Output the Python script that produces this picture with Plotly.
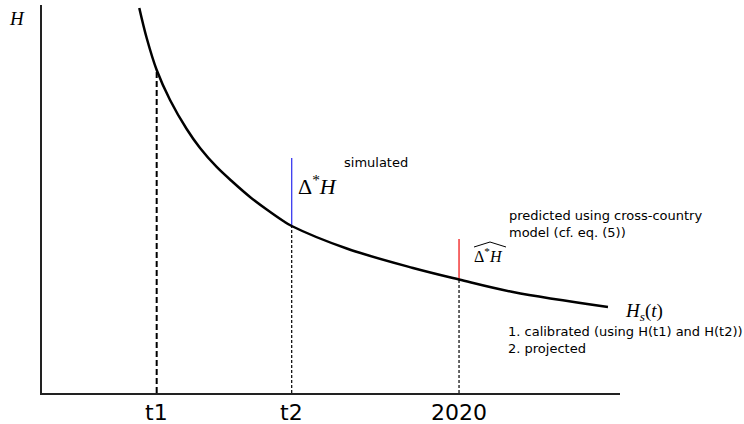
import plotly.graph_objects as go

# ---- data (arbitrary units) ----
curve_x = [1.683, 1.811, 1.984, 2.215, 2.503, 2.734, 3.022, 3.310, 3.599, 3.888,
           4.175, 4.320, 5.272, 6.419, 7.215, 8.149, 9.792]
curve_y = [9.923, 9.149, 8.325, 7.552, 6.804, 6.314, 5.825, 5.425, 5.052, 4.729,
           4.433, 4.304, 3.724, 3.222, 2.925, 2.603, 2.216]

tick_labels = ["t1", "t2", "2020"]
tick_x = [1.984, 4.320, 7.215]
H_at_ticks = [8.325, 4.304, 2.925]

delta_sim_top = 6.057    # top of blue (simulated) segment at t2
delta_pred_top = 3.97    # top of red (predicted) segment at 2020

# ---- layout geometry helpers (pixel -> paper) ----
L, R, T, B = 42, 620, 5, 393
W_PLOT, H_PLOT = R - L, B - T


def px(x):
    return (x - L) / W_PLOT


def py(y):
    return (B - y) / H_PLOT


SERIF = "Liberation Serif"
SANS = "DejaVu Sans"

fig = go.Figure()

# dashed drop lines
dash_styles = [("6px,3px", 2.0), ("3px,2px", 1.2), ("3px,2px", 1.2)]
for tx, hy, (dash, w) in zip(tick_x, H_at_ticks, dash_styles):
    fig.add_trace(go.Scatter(x=[tx, tx], y=[0, hy], mode="lines",
                             line=dict(color="black", width=w, dash=dash),
                             hoverinfo="skip", showlegend=False))

# simulated delta (blue) and predicted delta (red)
fig.add_trace(go.Scatter(x=[tick_x[1], tick_x[1]], y=[H_at_ticks[1], delta_sim_top],
                         mode="lines", line=dict(color="#3a3af0", width=1.3),
                         showlegend=False))
fig.add_trace(go.Scatter(x=[tick_x[2], tick_x[2]], y=[H_at_ticks[2], delta_pred_top],
                         mode="lines", line=dict(color="#f01a1a", width=1.3),
                         showlegend=False))

# main curve
fig.add_trace(go.Scatter(x=curve_x, y=curve_y, mode="lines",
                         line=dict(color="black", width=2.5, shape="spline", smoothing=1.0),
                         showlegend=False))

ann = []
# tick labels
tick_y_px = [412, 412.5, 412]
for lab, tx, ty in zip(tick_labels, tick_x, tick_y_px):
    ann.append(dict(x=tx, xref="x", y=py(ty), yref="paper", text=lab, showarrow=False,
                    xanchor="center", yanchor="middle",
                    font=dict(family=SANS, size=22, color="black")))

ann += [
    dict(x=px(16.5), y=py(18.5), text="<i>H</i>", xanchor="center", yanchor="middle",
         font=dict(family=SERIF, size=19, color="black")),
    dict(x=px(342), y=py(162), text="simulated", xanchor="left", yanchor="middle",
         font=dict(family=SANS, size=13, color="black")),
    dict(x=px(296), y=py(185), text="Δ<sup>*</sup><i>H</i>", xanchor="left", yanchor="middle",
         font=dict(family=SERIF, size=22, color="black")),
    dict(x=px(507), y=py(223.5), text="predicted using cross-country<br>model (cf. eq. (5))",
         xanchor="left", yanchor="middle", align="left",
         font=dict(family=SANS, size=13, color="black")),
    dict(x=px(472), y=py(255), text="Δ<sup>*</sup><i>H</i>", xanchor="left", yanchor="middle",
         font=dict(family=SERIF, size=16, color="black")),
    dict(x=px(623), y=py(312), text="<i>H<sub>s</sub></i>(<i>t</i>)", xanchor="left",
         yanchor="middle", font=dict(family=SERIF, size=19, color="black")),
    dict(x=px(506), y=py(340), text="1. calibrated (using H(t1) and H(t2))<br>2. projected",
         xanchor="left", yanchor="middle", align="left",
         font=dict(family=SANS, size=13, color="black")),
]
for a in ann:
    a.setdefault("xref", "paper")
    a.setdefault("yref", "paper")
    a["showarrow"] = False

# wide hat over the predicted delta label
hat = dict(type="path", xref="paper", yref="paper",
           path=f"M {px(474)},{py(247)} L {px(490)},{py(242)} L {px(506)},{py(247)}",
           line=dict(color="black", width=1))

fig.update_layout(
    width=744, height=424,
    margin=dict(l=L, r=744 - R, t=T, b=424 - B),
    paper_bgcolor="white", plot_bgcolor="white",
    annotations=ann, shapes=[hat],
    xaxis=dict(range=[0, 10], showgrid=False, zeroline=False, showticklabels=False,
               ticks="", showline=True, linecolor="#222222", linewidth=1.6, fixedrange=True),
    yaxis=dict(range=[0, 10], showgrid=False, zeroline=False, showticklabels=False,
               ticks="", showline=True, linecolor="#222222", linewidth=1.6, fixedrange=True),
    showlegend=False,
)

fig.write_html("out.html", config={"displayModeBar": False},
               post_script="document.body.style.margin='0px';document.body.style.overflow='hidden';")
